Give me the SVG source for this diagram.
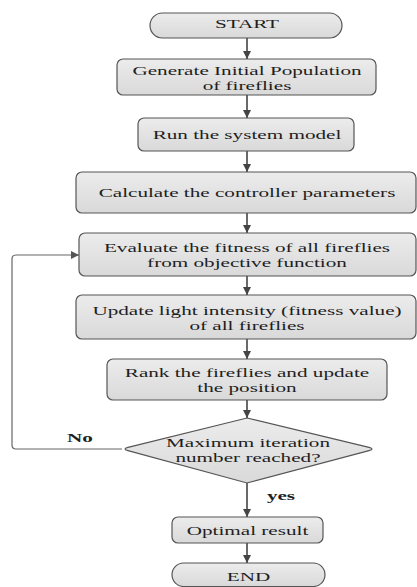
<svg xmlns="http://www.w3.org/2000/svg" width="417" height="587" viewBox="0 0 417 587">
<style>
.node{fill:url(#g);stroke:#555;stroke-width:1.2}
.t{font-family:"Liberation Serif","Times New Roman",serif;font-size:13.5px;fill:#1e1e1e;text-anchor:middle}
.b{font-weight:bold}
.c{fill:none;stroke:#444;stroke-width:1.6}
.f{fill:none;stroke:#666;stroke-width:1.2}
</style>
<defs>
<linearGradient id="g" x1="0" y1="0" x2="0" y2="1">
<stop offset="0" stop-color="#ececec"/>
<stop offset="1" stop-color="#d9d9d9"/>
</linearGradient>
<marker id="a" viewBox="0 0 10 10" refX="10" refY="5" markerWidth="10" markerHeight="8" markerUnits="userSpaceOnUse" orient="auto">
<path d="M0,0 L10,5 L0,10 Z" fill="#444"/>
</marker>
<marker id="a2" viewBox="0 0 10 10" refX="10" refY="5" markerWidth="15" markerHeight="8" markerUnits="userSpaceOnUse" orient="auto">
<path d="M0,0 L10,5 L0,10 Z" fill="#555"/>
</marker>
</defs>
<g id="connectors">
<line class="c" x1="247" y1="38" x2="247" y2="59" marker-end="url(#a)"/>
<line class="c" x1="247" y1="95" x2="247" y2="118" marker-end="url(#a)"/>
<line class="c" x1="247" y1="151" x2="247" y2="172" marker-end="url(#a)"/>
<line class="c" x1="247" y1="213" x2="247" y2="233" marker-end="url(#a)"/>
<line class="c" x1="247" y1="276" x2="247" y2="295" marker-end="url(#a)"/>
<line class="c" x1="247" y1="339" x2="247" y2="359" marker-end="url(#a)"/>
<line class="c" x1="247" y1="400" x2="247" y2="418" marker-end="url(#a)"/>
<line class="c" x1="247" y1="483" x2="247" y2="517" marker-end="url(#a)"/>
<line class="c" x1="247" y1="543" x2="247" y2="563" marker-end="url(#a)"/>
<path class="f" d="M122,449 L16,449 Q12,449 12,445 L12,259 Q12,255 16,255 L79,255" marker-end="url(#a2)"/>
<text class="t b" transform="translate(80,442) scale(1.568,1)">No</text>
<text class="t b" transform="translate(281,500) scale(1.568,1)">yes</text>
</g>
<g id="start">
<rect class="node" x="150" y="13" width="192" height="25" rx="12.5"/>
<text class="t" transform="translate(247,28) scale(1.568,1)">START</text>
</g>
<g id="generate">
<rect class="node" x="117" y="59" width="259" height="36" rx="6"/>
<text class="t" transform="translate(247,74.5) scale(1.568,1)">Generate Initial Population</text>
<text class="t" transform="translate(247,89.5) scale(1.568,1)">of fireflies</text>
</g>
<g id="run">
<rect class="node" x="138" y="118" width="216" height="33" rx="6"/>
<text class="t" transform="translate(247,139) scale(1.568,1)">Run the system model</text>
</g>
<g id="calculate">
<rect class="node" x="76" y="172" width="340" height="41" rx="6"/>
<text class="t" transform="translate(247,197) scale(1.568,1)">Calculate the controller parameters</text>
</g>
<g id="evaluate">
<rect class="node" x="79" y="233" width="337" height="43" rx="6"/>
<text class="t" transform="translate(247,252) scale(1.568,1)">Evaluate the fitness of all fireflies</text>
<text class="t" transform="translate(247,267) scale(1.568,1)">from objective function</text>
</g>
<g id="update">
<rect class="node" x="76" y="295" width="340" height="44" rx="6"/>
<text class="t" transform="translate(247,314.5) scale(1.568,1)">Update light intensity (fitness value)</text>
<text class="t" transform="translate(247,329.5) scale(1.568,1)">of all fireflies</text>
</g>
<g id="rank">
<rect class="node" x="107" y="359" width="280" height="41" rx="6"/>
<text class="t" transform="translate(247,376.5) scale(1.568,1)">Rank the fireflies and update</text>
<text class="t" transform="translate(247,391.5) scale(1.568,1)">the position</text>
</g>
<g id="decision">
<path class="node" d="M247,418 L369,447.4 Q375,449 369,450.6 L247,483 L128,450.6 Q122,449 128,447.4 Z"/>
<text class="t" transform="translate(248,446.5) scale(1.568,1)">Maximum iteration</text>
<text class="t" transform="translate(248,461.5) scale(1.568,1)">number reached?</text>
</g>
<g id="optimal">
<rect class="node" x="172" y="517" width="151" height="26" rx="6"/>
<text class="t" transform="translate(247.5,535) scale(1.568,1)">Optimal result</text>
</g>
<g id="end">
<rect class="node" x="172" y="563" width="153" height="23.5" rx="11.75"/>
<text class="t" transform="translate(248.5,580.5) scale(1.568,1)">END</text>
</g>
</svg>
